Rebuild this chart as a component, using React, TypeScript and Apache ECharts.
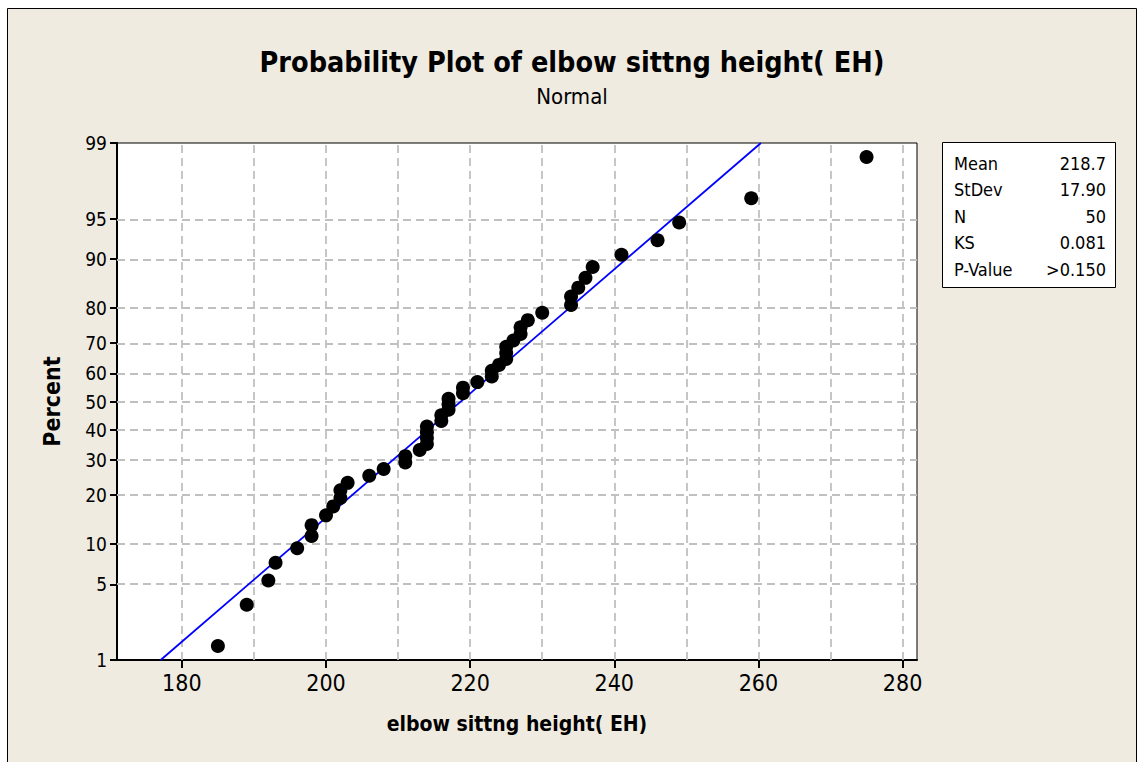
import React, { useEffect, useRef } from "react";
import * as echarts from "echarts";

const elbowHeights = [
  185, 189, 192, 193, 196, 198, 198, 200, 201, 202,
  202, 203, 206, 208, 211, 211, 213, 214, 214, 214,
  214, 216, 216, 217, 217, 217, 219, 219, 221, 223,
  223, 224, 225, 225, 225, 226, 227, 227, 228, 230,
  234, 234, 235, 236, 237, 241, 246, 249, 259, 275,
];
const percents = [
  1.39, 3.37, 5.36, 7.34, 9.33, 11.31, 13.29, 15.28, 17.26, 19.25,
  21.23, 23.21, 25.2, 27.18, 29.17, 31.15, 33.13, 35.12, 37.1, 39.09,
  41.07, 43.06, 45.04, 47.02, 49.01, 50.99, 52.98, 54.96, 56.94, 58.93,
  60.91, 62.9, 64.88, 66.87, 68.85, 70.83, 72.82, 74.8, 76.79, 78.77,
  80.75, 82.74, 84.72, 86.71, 88.69, 90.67, 92.66, 94.64, 96.63, 98.61,
];
const percentTicks = [1, 5, 10, 20, 30, 40, 50, 60, 70, 80, 90, 95, 99];
const xLabelTicks = [180, 200, 220, 240, 260, 280];
const xGridValues = [180, 190, 200, 210, 220, 230, 240, 250, 260, 270, 280];
const statLabels = ["Mean", "StDev", "N", "KS", "P-Value"];
const statValues = ["218.7", "17.90", "50", "0.081", ">0.150"];
const fitMean = 218.7;
const fitStDev = 17.9;

const FONT = "'DejaVu Sans Condensed', 'DejaVu Sans'";

// inverse standard normal CDF (probit scale of the y axis)
function probit(p: number): number {
  const a = [-3.969683028665376e1, 2.209460984245205e2, -2.759285104469687e2, 1.38357751867269e2, -3.066479806614716e1, 2.506628277459239];
  const b = [-5.447609879822406e1, 1.615858368580409e2, -1.556989798598866e2, 6.680131188771972e1, -1.328068155288572e1];
  const c = [-7.784894002430293e-3, -3.223964580411365e-1, -2.400758277161838, -2.549732539343734, 4.374664141464968, 2.938163982698783];
  const d = [7.784695709041462e-3, 3.224671290700398e-1, 2.445134137142996, 3.754408661907416];
  const pl = 0.02425;
  let q: number, r: number;
  if (p < pl) {
    q = Math.sqrt(-2 * Math.log(p));
    return (((((c[0] * q + c[1]) * q + c[2]) * q + c[3]) * q + c[4]) * q + c[5]) / ((((d[0] * q + d[1]) * q + d[2]) * q + d[3]) * q + 1);
  } else if (p <= 1 - pl) {
    q = p - 0.5;
    r = q * q;
    return ((((((a[0] * r + a[1]) * r + a[2]) * r + a[3]) * r + a[4]) * r + a[5]) * q) / (((((b[0] * r + b[1]) * r + b[2]) * r + b[3]) * r + b[4]) * r + 1);
  }
  q = Math.sqrt(-2 * Math.log(1 - p));
  return -(((((c[0] * q + c[1]) * q + c[2]) * q + c[3]) * q + c[4]) * q + c[5]) / ((((d[0] * q + d[1]) * q + d[2]) * q + d[3]) * q + 1);
}

export default function App() {
  const ref = useRef<HTMLDivElement>(null);
  useEffect(() => {
    if (!ref.current) return;
    const chart = echarts.init(ref.current, null, { renderer: "svg" });
    const zMin = probit(0.01);
    const zMax = probit(0.99);
    const tickZ = percentTicks.map((p) => probit(p / 100));
    const points = elbowHeights.map((x, i) => [x, probit(percents[i] / 100)]);
    const fitLine = [
      [fitMean + fitStDev * zMin, zMin],
      [fitMean + fitStDev * zMax, zMax],
    ];
    const gridLines: any[] = [
      ...xGridValues.map((v) => ({ xAxis: v })),
      ...tickZ.slice(1, -1).map((z) => ({ yAxis: z })),
    ];
    const rowY0 = 163;
    const rowStep = 26.5;
    const statTexts: any[] = [];
    statLabels.forEach((lab, i) => {
      statTexts.push({
        type: "text",
        x: 954,
        y: rowY0 + i * rowStep,
        style: { text: lab, font: `18px ${FONT}`, fill: "#000", align: "left", verticalAlign: "middle" },
      });
      statTexts.push({
        type: "text",
        x: 1106,
        y: rowY0 + i * rowStep,
        style: { text: statValues[i], font: `18px ${FONT}`, fill: "#000", align: "right", verticalAlign: "middle" },
      });
    });

    chart.setOption({
      animation: false,
      backgroundColor: "#fff",
      textStyle: { fontFamily: FONT },
      title: {
        text: "Probability Plot of elbow sittng height( EH)",
        subtext: "Normal",
        left: "center",
        top: 43,
        itemGap: 8,
        textStyle: { fontSize: 28.5, fontWeight: "bold", color: "#000", fontFamily: FONT },
        subtextStyle: { fontSize: 22, color: "#000", fontFamily: FONT },
      },
      graphic: [
        {
          type: "rect",
          z: -10,
          silent: true,
          shape: { x: 7.5, y: 8.5, width: 1129, height: 760 },
          style: { fill: "#EFEBE1", stroke: "#000", lineWidth: 1 },
        },
        {
          type: "rect",
          silent: true,
          shape: { x: 942.5, y: 142.5, width: 173, height: 145 },
          style: { fill: "#fff", stroke: "#000", lineWidth: 1 },
        },
        ...statTexts,
      ],
      grid: {
        left: 117,
        top: 143,
        width: 800,
        height: 517,
        show: true,
        backgroundColor: "#fff",
        borderColor: "#000",
        borderWidth: 1,
      },
      xAxis: {
        type: "value",
        min: 171,
        max: 282,
        name: "elbow sittng height( EH)",
        nameLocation: "middle",
        nameGap: 53,
        nameTextStyle: { fontSize: 21, fontWeight: "bold", color: "#000", fontFamily: FONT },
        axisLine: { show: true, onZero: false, lineStyle: { color: "#000", width: 2 } },
        axisTick: { show: true, customValues: xLabelTicks, length: 8, lineStyle: { color: "#000", width: 2 } },
        axisLabel: { customValues: xLabelTicks, fontSize: 23, color: "#000", margin: 11, fontFamily: FONT },
        splitLine: { show: false },
      },
      yAxis: {
        type: "value",
        min: zMin,
        max: zMax,
        name: "Percent",
        nameLocation: "middle",
        nameRotate: 90,
        nameGap: 54,
        nameTextStyle: { fontSize: 23, fontWeight: "bold", color: "#000", fontFamily: FONT },
        axisLine: { show: true, onZero: false, lineStyle: { color: "#000", width: 2 } },
        axisTick: { show: true, customValues: tickZ, length: 7, lineStyle: { color: "#000", width: 2 } },
        axisLabel: {
          customValues: tickZ,
          fontSize: 19,
          color: "#000",
          margin: 10,
          fontFamily: FONT,
          formatter: (v: number) => {
            let best = percentTicks[0];
            let bd = Infinity;
            percentTicks.forEach((p) => {
              const dd = Math.abs(probit(p / 100) - v);
              if (dd < bd) { bd = dd; best = p; }
            });
            return String(best);
          },
        },
        splitLine: { show: false },
      },
      series: [
        {
          name: "grid",
          type: "line",
          data: [],
          z: 1,
          silent: true,
          markLine: {
            z: 1,
            silent: true,
            symbol: ["none", "none"],
            label: { show: false },
            lineStyle: { color: "#C0C0C0", type: [8, 5], width: 1.8 },
            emphasis: { disabled: true },
            data: gridLines,
          },
        },
        {
          name: "fit",
          type: "line",
          data: fitLine,
          z: 8,
          symbol: "none",
          silent: true,
          lineStyle: { color: "#0000FF", width: 1.8 },
        },
        {
          name: "EH",
          type: "scatter",
          data: points,
          z: 10,
          symbol: "circle",
          symbolSize: 14,
          itemStyle: { color: "#000", opacity: 1 },
        },
      ],
    });
    return () => chart.dispose();
  }, []);
  return (
    <div
      ref={ref}
      style={{ position: "fixed", left: 0, top: 0, width: 1144, height: 762 }}
    />
  );
}
